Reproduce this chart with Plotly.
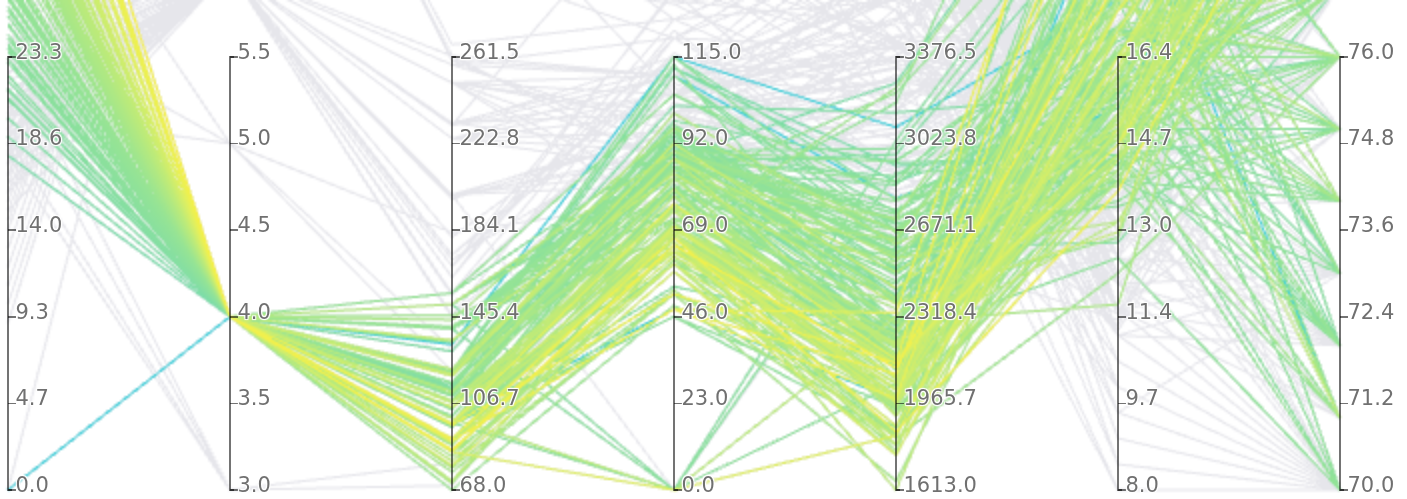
import plotly.graph_objects as go

# ---- data: auto-mpg "cars" (0 = missing value), one line per model year ----
mpg = [
 18,15,18,16,17, 15,14,14,14,15, 0,0,0,0,0, 15,14,0,15,14, 24,22,18,21,27, 26,25,24,25,26, 21,10,10,11,9,
 27,28,25,25,0, 19,16,17,19,18, 14,14,14,14,12, 13,13,18,22,19, 18,23,28,30,30, 31,35,27,26,
 24,25,23,20,21, 13,14,15,14,17, 11,13,12,13,19, 15,13,13,14,18, 22,21,26,22,28, 23,28,27,
 13,14,13,14,15, 12,13,13,14,13, 12,13,18,16,18, 18,23,26,11,12, 13,12,18,20,21, 22,18,19,21,26, 15,16,29,24,20, 19,15,24,20,11,
 20,21,19,15,31, 26,32,25,16,16, 18,16,13,14,14, 14,29,26,26,31, 32,28,24,26,24, 26,31,
 19,18,15,15,16, 15,16,14,17,16, 15,18,21,20,13, 29,23,20,23,24, 25,24,18,29,19, 23,23,22,25,33,
 28,25,25,26,27, 17.5,16,15.5,14.5,22, 22,24,22.5,29,24.5, 29,33,20,18,18.5, 17.5,29.5,32,28,26.5, 20,13,19,19,16.5, 16.5,13,13,13,
 31.5,30,36,25.5,33.5, 17.5,17,15.5,15,17.5, 20.5,19,18.5,16,15.5, 15.5,16,29,24.5,26, 25.5,30.5,33.5,30,30.5, 22,21.5,21.5,
 43.1,36.1,32.8,39.4,36.1, 19.9,19.4,20.2,19.2,20.5, 20.2,25.1,20.5,19.4,20.6, 20.8,18.6,18.1,19.2,17.7, 18.1,17.5,30,27.5,27.2, 30.9,21.1,23.2,23.8,23.9, 20.3,17,21.6,16.2,31.5, 29.5,
 21.5,19.8,22.3,20.2,20.6, 17,17.6,16.5,18.2,16.9, 15.5,19.2,18.5,31.9,34.1, 35.7,27.4,25.4,23,27.2, 23.9,34.2,34.5,31.8,37.3, 28.4,28.8,26.8,33.5,
 41.5,38.1,32.1,37.2,28, 26.4,24.3,19.1,34.3,29.8, 31.3,37,32.2,46.6,27.9, 40.8,44.3,43.4,36.4,30, 44.6,40.9,33.8,29.8,32.7, 23.7,35,23.6,32.4,
 27.2,26.6,25.8,23.5,30, 39.1,39,35.1,32.3,37, 37.7,34.1,34.7,34.4,29.9, 33,34.5,33.7,32.4,32.9, 31.6,28.1,0,30.7,25.4, 24.2,22.4,26.6,20.2,17.6,
 28,27,34,31,29, 27,24,23,36,37, 31,38,36,36,36, 34,38,32,38,25, 38,26,22,32,36, 27,27,44,32,28, 31,
]
cylinders = [
 8,8,8,8,8, 8,8,8,8,8, 4,8,8,8,8, 8,8,8,8,8, 4,6,6,6,4, 4,4,4,4,4, 6,8,8,8,8,
 4,4,4,4,4, 6,6,6,6,6, 8,8,8,8,8, 8,8,6,4,6, 6,4,4,4,4, 4,4,4,4,
 4,4,4,4,4, 8,8,8,8,8, 8,8,8,8,3, 8,8,8,8,4, 4,4,4,4,4, 4,4,4,
 8,8,8,8,8, 8,8,8,8,8, 8,8,6,6,6, 6,6,4,8,8, 8,8,6,4,4, 4,3,4,6,4, 8,8,4,4,4, 4,8,4,6,8,
 6,6,6,6,4, 4,4,4,6,6, 6,8,8,8,8, 8,4,4,4,4, 4,4,4,4,4, 4,4,
 6,6,6,6,8, 8,8,8,6,6, 6,6,6,8,8, 4,4,6,4,4, 4,4,6,4,6, 4,4,4,4,4,
 4,4,4,4,4, 8,8,8,8,6, 6,6,6,4,4, 4,4,6,6,6, 6,4,4,4,4, 4,8,4,6,6, 8,8,8,8,
 4,4,4,4,4, 8,8,8,8,6, 6,6,6,8,8, 8,8,4,4,4, 4,4,4,4,4, 6,4,3,
 4,4,4,4,4, 8,8,8,6,6, 6,4,6,6,6, 6,6,6,8,6, 8,8,4,4,4, 4,4,4,4,4, 5,6,4,6,4, 4,
 6,6,4,6,6, 8,8,8,8,8, 8,8,8,4,4, 4,4,5,8,4, 8,4,4,4,4, 4,6,6,4,
 4,4,4,4,4, 4,4,6,4,4, 4,4,4,4,4, 4,4,4,5,4, 4,4,4,4,6, 3,4,4,4,
 4,4,4,6,4, 4,4,4,4,4, 4,4,4,4,4, 4,4,4,4,4, 4,4,4,6,6, 6,6,8,6,6,
 4,4,4,4,4, 4,4,4,4,4, 4,4,4,4,4, 4,4,4,4,6, 6,4,6,4,4, 4,4,4,4,4, 4,
]
displacement = [
 307,350,318,304,302, 429,454,440,455,390, 133,350,351,383,360, 383,340,302,400,455, 113,198,199,200,97, 97,110,107,104,121, 199,360,307,318,304,
 97,140,113,98,97, 232,225,250,250,232, 350,400,351,318,383, 400,400,258,140,250, 250,122,116,79,88, 71,72,97,91,
 113,97.5,97,140,122, 350,400,318,351,304, 429,350,350,400,70, 304,307,302,318,121, 121,120,96,122,97, 120,98,97,
 350,304,350,302,318, 429,400,351,318,440, 455,360,225,250,232, 250,198,97,400,400, 360,350,232,97,140, 108,70,122,155,98, 350,400,68,116,114, 121,318,121,156,350,
 198,200,232,250,79, 122,71,140,250,258, 225,302,350,318,302, 304,98,79,97,76, 83,90,90,116,120, 108,79,
 225,250,250,250,400, 350,318,351,231,250, 258,225,231,262,302, 97,140,232,140,134, 90,119,171,90,232, 115,120,121,121,91,
 107,116,140,98,101, 305,318,304,351,225, 250,200,232,85,98, 90,91,225,250,250, 258,97,85,97,140, 130,318,120,156,168, 350,350,302,318,
 98,111,79,122,85, 305,260,318,302,250, 231,225,250,400,350, 400,351,97,151,97, 140,98,98,97,97, 146,121,80,
 90,98,78,85,91, 260,318,302,231,200, 200,140,225,232,231, 200,225,258,305,231, 302,318,98,134,119, 105,134,156,151,119, 131,163,121,163,89, 98,
 231,200,140,232,225, 305,302,351,318,350, 351,267,360,89,86, 98,121,183,350,141, 260,105,105,85,91, 151,173,173,151,
 98,89,98,86,151, 140,151,225,97,134, 120,119,108,86,156, 85,90,90,121,146, 91,85,97,89,168, 70,122,140,107,
 135,151,156,173,135, 79,86,81,97,85, 89,91,105,98,98, 105,100,107,108,119, 120,141,121,145,168, 146,231,350,200,225,
 112,112,112,112,135, 151,140,151,105,91, 91,105,98,120,107, 108,91,91,91,181, 262,156,232,144,135, 151,140,97,135,120, 119,
]
power = [
 130,165,150,150,140, 198,220,215,225,190, 115,165,153,175,175, 170,160,140,150,225, 95,95,97,85,88, 46,87,90,95,113, 90,215,200,210,193,
 88,90,95,0,48, 100,105,100,88,100, 165,175,153,150,180, 170,175,110,72,100, 88,86,90,70,76, 65,69,60,70,
 95,80,54,90,86, 165,175,150,153,150, 208,155,160,190,97, 150,130,140,150,112, 76,87,69,86,92, 97,80,88,
 175,150,145,137,150, 198,150,158,150,215, 225,175,105,100,100, 88,95,46,150,167, 170,180,100,88,72, 94,90,85,107,90, 145,230,49,75,91, 112,150,110,122,180,
 95,0,100,100,67, 80,65,75,100,110, 105,140,150,150,140, 150,83,67,78,52, 61,75,75,75,97, 93,67,
 95,105,72,72,170, 145,150,148,110,105, 110,95,110,110,129, 75,83,100,78,96, 71,97,97,70,90, 95,88,98,115,53,
 86,81,92,79,83, 140,150,120,152,100, 105,81,90,52,60, 70,53,100,78,110, 95,71,70,75,72, 102,150,88,108,120, 180,145,130,150,
 68,80,58,96,70, 145,110,145,130,110, 105,100,98,180,170, 190,149,78,88,75, 89,63,83,67,78, 97,110,110,
 48,66,52,70,60, 110,140,139,105,95, 85,88,100,90,105, 85,110,120,145,165, 139,140,68,95,97, 75,95,105,85,97, 103,125,115,133,71, 68,
 115,85,88,90,110, 130,129,138,135,155, 142,125,150,71,65, 80,80,77,125,71, 90,70,70,65,69, 90,115,115,90,
 76,60,70,65,90, 88,90,90,78,90, 75,92,75,65,105, 65,48,48,67,67, 67,0,67,62,132, 100,88,0,72,
 84,84,92,110,84, 58,64,60,67,65, 62,68,63,65,65, 74,0,75,75,100, 74,80,110,76,116, 120,110,105,88,85,
 88,88,88,85,84, 90,92,0,74,68, 68,63,70,88,75, 70,67,67,67,110, 85,92,112,96,84, 90,86,52,84,79, 82,
]
weight = [
 3504,3693,3436,3433,3449, 4341,4354,4312,4425,3850, 3090,4142,4034,4166,3850, 3563,3609,3353,3761,3086, 2372,2833,2774,2587,2130, 1835,2672,2430,2375,2234, 2648,4615,4376,4382,4732,
 2130,2264,2228,2046,1978, 2634,3439,3329,3302,3288, 4209,4464,4154,4096,4955, 4746,5140,2962,2408,3282, 3139,2220,2123,2074,2065, 1773,1613,1834,1955,
 2278,2126,2254,2408,2226, 4274,4385,4135,4129,3672, 4633,4502,4456,4422,2330, 3892,4098,4294,4077,2933, 2511,2979,2189,2395,2288, 2506,2164,2100,
 4100,3672,3988,4042,3777, 4952,4464,4363,4237,4735, 4951,3821,3121,3278,2945, 3021,2904,1950,4997,4906, 4654,4499,2789,2279,2401, 2379,2124,2310,2472,2265, 4082,4278,1867,2158,2582, 2868,3399,2660,2807,3664,
 3102,2875,2901,3336,1950, 2451,1836,2542,3781,3632, 3613,4141,4699,4457,4638, 4257,2219,1963,2300,1649, 2003,2125,2108,2246,2489, 2391,2000,
 3264,3459,3432,3158,4668, 4440,4498,4657,3907,3897, 3730,3785,3039,3221,3169, 2171,2639,2914,2592,2702, 2223,2545,2984,1937,3211, 2694,2957,2945,2671,1795,
 2464,2220,2572,2255,2202, 4215,4190,3962,4215,3233, 3353,3012,3085,2035,2164, 1937,1795,3651,3574,3645, 3193,1825,1990,2155,2565, 3150,3940,3270,2930,3820, 4380,4055,3870,3755,
 2045,2155,1825,2300,1945, 3880,4060,4140,4295,3520, 3425,3630,3525,4220,4165, 4325,4335,1940,2740,2265, 2755,2051,2075,1985,2190, 2815,2600,2720,
 1985,1800,1985,2070,1800, 3365,3735,3570,3535,3155, 2965,2720,3430,3210,3380, 3070,3620,3410,3425,3445, 3205,4080,2155,2560,2300, 2230,2515,2745,2855,2405, 2830,3140,2795,3410,1990, 2135,
 3245,2990,2890,3265,3360, 3840,3725,3955,3830,4360, 4054,3605,3940,1925,1975, 1915,2670,3530,3900,3190, 3420,2200,2150,2020,2130, 2670,2595,2700,2556,
 2144,1968,2120,2019,2678, 2870,3003,3381,2188,2711, 2542,2434,2265,2110,2800, 2110,2085,2335,2950,3250, 1850,1835,2145,1845,2910, 2420,2500,2905,2290,
 2490,2635,2620,2725,2385, 1755,1875,1760,2065,1975, 2050,1985,2215,2045,2380, 2190,2320,2210,2350,2615, 2635,3230,2800,3160,2900, 2930,3415,3725,3060,3465,
 2605,2640,2395,2575,2525, 2735,2865,3035,1980,2025, 1970,2125,2125,2160,2205, 2245,1965,1965,1995,2945, 3015,2585,2835,2665,2370, 2950,2790,2130,2295,2625, 2720,
]
acceleration = [
 12,11.5,11,12,10.5, 10,9,8.5,10,8.5, 17.5,11.5,11,10.5,11, 10,8,8,9.5,10, 15,15.5,15.5,16,14.5, 20.5,17.5,14.5,17.5,12.5, 15,14,15,13.5,18.5,
 14.5,15.5,14,19,20, 13,15.5,15.5,15.5,15.5, 12,11.5,13.5,13,11.5, 12,12,13.5,19,15, 14.5,14,14,19.5,14.5, 19,18,19,20.5,
 15.5,17,23.5,19.5,16.5, 12,12,13.5,13,11.5, 11,13.5,13.5,12.5,13.5, 12.5,14,16,14,14.5, 18,19.5,18,16,17, 14.5,15,16.5,
 13,11.5,13,14.5,12.5, 11.5,12,13,14.5,11, 11,11,16.5,18,16, 16.5,16,21,14,12.5, 13,12.5,15,19,19.5, 16.5,13.5,18.5,14,15.5, 13,9.5,19.5,15.5,14, 15.5,11,14,13.5,11,
 16.5,17,16,17,19, 16.5,21,17,17,18, 16.5,14,14.5,13.5,16, 15.5,16.5,15.5,14.5,16.5, 19,14.5,15.5,14,15, 15.5,16,
 16,16,21,19.5,11.5, 14,14.5,13.5,21,18.5, 19,19,15,13.5,12, 16,17,16,18.5,13.5, 16.5,17,14.5,14,17, 15,17,14.5,13.5,17.5,
 15.5,16.9,14.9,17.7,15.3, 13,13,13.9,12.8,15.4, 14.5,17.6,17.6,22.2,22.1, 14.2,17.4,17.7,21,16.2, 17.8,12.2,17,16.4,13.6, 15.7,13.2,21.9,15.5,16.7, 12.1,12,15,14,
 18.5,14.8,18.6,15.5,16.8, 12.5,19,13.7,14.9,16.4, 16.9,17.7,19,11.1,11.4, 12.2,14.5,14.5,16,18.2, 15.8,17,15.9,16.4,14.1, 14.5,12.8,13.5,
 21.5,14.4,19.4,18.6,16.4, 15.5,13.2,12.8,19.2,18.2, 15.8,15.4,17.2,17.2,15.8, 16.7,18.7,15.1,13.2,13.4, 11.2,13.7,16.5,14.2,14.7, 14.5,14.8,16.7,17.6,14.9, 15.9,13.6,15.7,15.8,14.9, 16.6,
 15.4,18.2,17.3,18.2,16.6, 15.4,13.4,13.2,15.2,14.9, 14.3,15,13,14,15.2, 14.4,15,20.1,17.4,24.8, 22.2,13.2,14.9,19.2,14.7, 16,11.3,12.9,13.2,
 14.7,18.8,15.5,16.4,16.5, 18.1,20.1,18.7,15.8,15.5, 17.5,15,15.2,17.9,14.4, 19.2,21.7,23.7,19.9,21.8, 13.8,17.3,18,15.3,11.4, 12.5,15.1,14.3,17,
 15.7,16.4,14.4,12.6,12.9, 16.9,16.4,16.1,17.8,19.4, 17.3,16,14.9,16.2,20.7, 14.2,15.8,14.4,16.8,14.8, 18.3,20.4,15.4,19.6,12.6, 13.8,15.8,19,17.1,16.6,
 19.6,18.6,18,16.2,16, 18,16.4,20.5,15.3,18.2, 17.6,14.7,17.3,14.5,14.5, 16.9,15,15.7,16.2,16.4, 17,14.5,14.7,13.9,13, 17.3,15.6,24.6,11.6,18.6, 19.4,
]
year = [
 70,70,70,70,70, 70,70,70,70,70, 70,70,70,70,70, 70,70,70,70,70, 70,70,70,70,70, 70,70,70,70,70, 70,70,70,70,70,
 71,71,71,71,71, 71,71,71,71,71, 71,71,71,71,71, 71,71,71,71,71, 71,71,71,71,71, 71,71,71,71,
 72,72,72,72,72, 72,72,72,72,72, 72,72,72,72,72, 72,72,72,72,72, 72,72,72,72,72, 72,72,72,
 73,73,73,73,73, 73,73,73,73,73, 73,73,73,73,73, 73,73,73,73,73, 73,73,73,73,73, 73,73,73,73,73, 73,73,73,73,73, 73,73,73,73,73,
 74,74,74,74,74, 74,74,74,74,74, 74,74,74,74,74, 74,74,74,74,74, 74,74,74,74,74, 74,74,
 75,75,75,75,75, 75,75,75,75,75, 75,75,75,75,75, 75,75,75,75,75, 75,75,75,75,75, 75,75,75,75,75,
 76,76,76,76,76, 76,76,76,76,76, 76,76,76,76,76, 76,76,76,76,76, 76,76,76,76,76, 76,76,76,76,76, 76,76,76,76,
 77,77,77,77,77, 77,77,77,77,77, 77,77,77,77,77, 77,77,77,77,77, 77,77,77,77,77, 77,77,77,
 78,78,78,78,78, 78,78,78,78,78, 78,78,78,78,78, 78,78,78,78,78, 78,78,78,78,78, 78,78,78,78,78, 78,78,78,78,78, 78,
 79,79,79,79,79, 79,79,79,79,79, 79,79,79,79,79, 79,79,79,79,79, 79,79,79,79,79, 79,79,79,79,
 80,80,80,80,80, 80,80,80,80,80, 80,80,80,80,80, 80,80,80,80,80, 80,80,80,80,80, 80,80,80,80,
 81,81,81,81,81, 81,81,81,81,81, 81,81,81,81,81, 81,81,81,81,81, 81,81,81,81,81, 81,81,81,81,81,
 82,82,82,82,82, 82,82,82,82,82, 82,82,82,82,82, 82,82,82,82,82, 82,82,82,82,82, 82,82,82,82,82, 82,
]

columns = [mpg, cylinders, displacement, power, weight, acceleration, year]
lens = [len(c) for c in columns]
assert len(set(lens)) == 1, "column lengths differ: %s" % lens

# full axis extents of the original chart (10 tick intervals each)
axis_min = [0, 3, 68, 0, 1613, 8, 70]
axis_max = [46.6, 8, 455, 230, 5140, 24.8, 82]
brushed_cylinders = [3.9, 4.1]

# only the lower part of every axis is visible (the view is cut at the top)
VISIBLE_INTERVALS = 5.611

dims = []
for i, vals in enumerate(columns):
    lo, hi = axis_min[i], axis_max[i]
    step = (hi - lo) / 10
    tv = [lo + k * step for k in range(6)]
    d = dict(range=[lo, lo + VISIBLE_INTERVALS * step], values=vals,
             tickvals=tv, ticktext=["%.1f" % v for v in tv], label="")
    if i == 1:
        d["constraintrange"] = brushed_cylinders
    dims.append(d)

fig = go.Figure(go.Parcoords(
    line=dict(color=mpg, cmin=0, cmax=46.6,
              colorscale=[[0, "#40d0da"], [0.4, "#7edda8"], [0.6, "#96e495"],
                          [0.75, "#bdeb7a"], [0.87, "#dff062"], [1, "#f5f048"]]),
    unselected=dict(line=dict(color="#e6e6eb", opacity=1)),
    dimensions=dims,
    tickfont=dict(family="DejaVu Sans", size=10.5, color="#707070"),
    rangefont=dict(size=1, color="rgba(0,0,0,0)"),
    labelfont=dict(size=1, color="rgba(0,0,0,0)"),
))
# figure is laid out at half size and shown at 2x (thicker, softer lines like the reference)
fig.update_layout(width=704, height=250, margin=dict(l=3.5, r=33.5, t=0, b=2.5),
                  paper_bgcolor="white", plot_bgcolor="white")

post = """
document.documentElement.style.overflow = 'hidden';
document.body.style.margin = '0';
document.body.style.overflow = 'hidden';
var gd = document.getElementById('{plot_id}');
gd.style.transformOrigin = '0 0';
gd.style.transform = 'scale(2)';
var st = document.createElement('style');
st.textContent = `
.parcoords .axis .tick text { text-anchor: start !important; transform: translate(10.75px, -2.5px); }
.parcoords .axis .tick line { transform: scaleX(-1); stroke: #000 !important; stroke-opacity: 0.55 !important; stroke-width: 0.75px !important; }
.parcoords .axis path.domain { transform: scaleX(-1); stroke: #000 !important; stroke-opacity: 0.55 !important; stroke-width: 0.75px !important; }
.parcoords .highlight, .parcoords .highlight-shadow { opacity: 0 !important; }
.parcoords .axis-extent-text { display: none; }
`;
document.head.appendChild(st);
"""
fig.write_html("out.html", config={"plotGlPixelRatio": 1, "displayModeBar": False},
               post_script=post)
